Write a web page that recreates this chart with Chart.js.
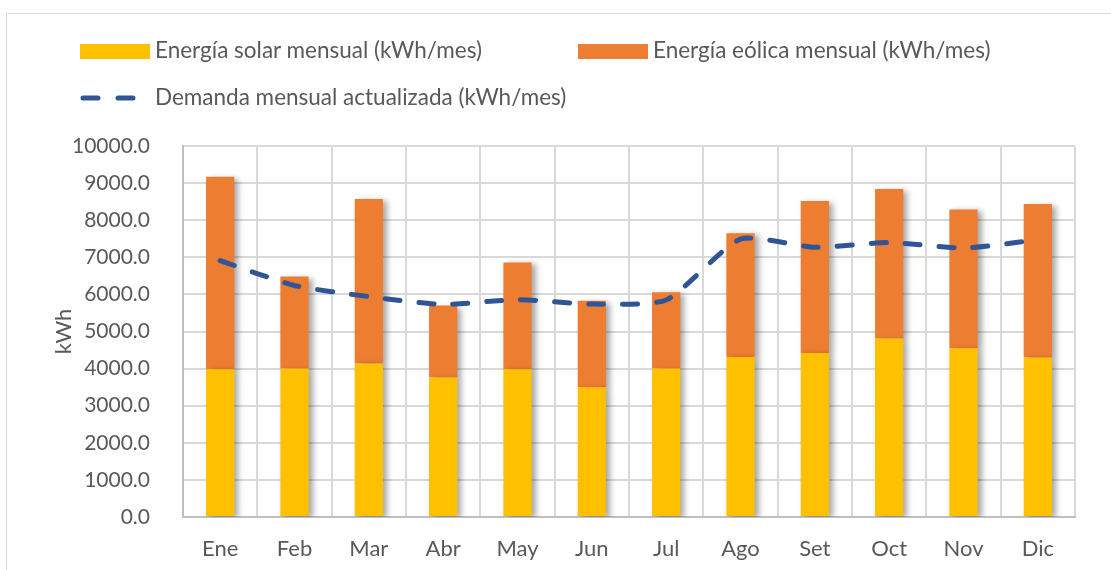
<!DOCTYPE html>
<html>
<head>
<meta charset="utf-8">
<script src="https://cdn.jsdelivr.net/npm/chart.js@4"></script>
<style>
  body { margin: 0; background: #fff; font-family: Lato, sans-serif; }
  #wrap { position: relative; width: 1111px; height: 570px; overflow: hidden; }
  #frame { position: absolute; left: 6px; top: 13px; width: 1200px; height: 700px; border: 1.5px solid #d9d9d9; }
  #myChart { position: absolute; left: 0; top: 0; }
  .leg { position: absolute; font-size: 22.5px; color: #595959; white-space: nowrap; line-height: 26px; }
  .sw { display: inline-block; width: 70px; height: 15px; vertical-align: -1px; margin-right: 5px; }
  .dash { display: inline-block; width: 70px; height: 6px; vertical-align: 4px; margin-right: 5px; }
</style>
</head>
<body>
<div id="wrap">
  <div id="frame"></div>
  <canvas id="myChart" width="1111" height="570"></canvas>
  <div class="leg" style="left:80px; top:37px;"><span class="sw" style="background:#FFC000"></span>Energía solar mensual (kWh/mes)</div>
  <div class="leg" style="left:578px; top:37px;"><span class="sw" style="background:#ED7D31"></span>Energía eólica mensual (kWh/mes)</div>
  <div class="leg" style="left:80px; top:84px;"><svg class="dash" width="70" height="6"><line x1="3" y1="3" x2="67" y2="3" stroke="#2F5597" stroke-width="5" stroke-linecap="round" stroke-dasharray="15 20"/></svg>Demanda mensual actualizada (kWh/mes)</div>
</div>
<script>
var months = ['Ene', 'Feb', 'Mar', 'Abr', 'May', 'Jun', 'Jul', 'Ago', 'Set', 'Oct', 'Nov', 'Dic'];
var solar = [3980, 4000, 4140, 3760, 3980, 3500, 4000, 4310, 4420, 4810, 4550, 4300];
var eolica = [5190, 2480, 4430, 1940, 2880, 2330, 2060, 3340, 4100, 4030, 3740, 4140];
var demanda = [6910, 6240, 5940, 5730, 5860, 5740, 5850, 7490, 7270, 7400, 7250, 7470];

var shadow = {
    id: 'barShadow',
    beforeDatasetDraw: function(chart, args) {
        if (args.meta.type !== 'bar') return;
        var c = chart.ctx;
        c.save();
        c.shadowColor = 'rgba(0,0,0,0.35)';
        c.shadowBlur = 6;
        c.shadowOffsetX = 4;
        c.shadowOffsetY = 2;
    },
    afterDatasetDraw: function(chart, args) {
        if (args.meta.type !== 'bar') return;
        chart.ctx.restore();
    }
};

var ctx = document.getElementById('myChart').getContext('2d');
var chart = new Chart(ctx, {
    type: 'bar',
    data: {
        labels: months,
        datasets: [{
            type: 'line',
            label: 'Demanda mensual actualizada (kWh/mes)',
            data: demanda,
            borderColor: '#2F5597',
            backgroundColor: '#2F5597',
            borderWidth: 5,
            borderDash: [15, 19],
            borderCapStyle: 'round',
            pointRadius: 0,
            tension: 0.2,
            fill: false,
            order: 0
        }, {
            label: 'Energía solar mensual (kWh/mes)',
            data: solar,
            backgroundColor: '#FFC000',
            barPercentage: 0.38,
            categoryPercentage: 1,
            order: 1
        }, {
            label: 'Energía eólica mensual (kWh/mes)',
            data: eolica,
            backgroundColor: '#ED7D31',
            barPercentage: 0.38,
            categoryPercentage: 1,
            order: 1
        }]
    },
    options: {
        responsive: false,
        animation: false,
        layout: { padding: { left: 40, right: 36, top: 146, bottom: 0 } },
        plugins: {
            legend: { display: false },
            tooltip: { enabled: false }
        },
        scales: {
            x: {
                stacked: true,
                afterFit: function(scale) { scale.height = 53; },
                grid: { color: '#d9d9d9', lineWidth: 2, drawTicks: false },
                border: { color: '#bfbfbf', width: 2 },
                ticks: { color: '#595959', font: { family: 'Lato', size: 22 }, padding: 19 }
            },
            y: {
                stacked: true,
                min: 0,
                max: 10000,
                afterFit: function(scale) { scale.width = 143; },
                grid: { color: '#d9d9d9', lineWidth: 2, drawTicks: false },
                border: { color: '#bfbfbf', width: 2 },
                ticks: {
                    stepSize: 1000,
                    color: '#595959',
                    font: { family: 'Lato', size: 21 },
                    padding: 33,
                    callback: function(v) { return v.toFixed(1); }
                },
                title: {
                    display: true,
                    text: 'kWh',
                    color: '#595959',
                    font: { family: 'Lato', size: 22 },
                    padding: { top: 11, bottom: 4 }
                }
            }
        }
    },
    plugins: [shadow]
});
</script>
</body>
</html>
